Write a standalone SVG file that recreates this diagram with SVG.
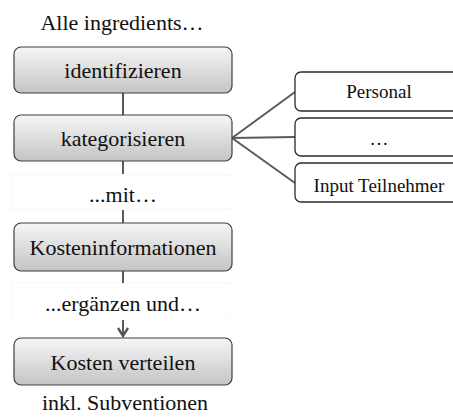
<svg xmlns="http://www.w3.org/2000/svg" width="453" height="419" viewBox="0 0 453 419">
  <style>
    .step { stroke: #3f3f3f; stroke-width: 1.2; fill: url(#stepFill); }
    .cat { stroke: #2b2b2b; stroke-width: 1.3; fill: #ffffff; }
    .lbl { fill: #ffffff; stroke: #f7f7f7; stroke-width: 1; }
    .t { font-family: "Liberation Serif", "Times New Roman", serif; fill: #111; text-anchor: middle; }
    .big { font-size: 22px; }
    .small { font-size: 19px; }
    .wire { stroke: #5a5a5a; stroke-width: 2; fill: none; }
  </style>
  <defs>
    <linearGradient id="stepFill" x1="0" y1="0" x2="0" y2="1">
      <stop offset="0" stop-color="#f6f6f6"/>
      <stop offset="1" stop-color="#c4c4c4"/>
    </linearGradient>
    <marker id="arrow" viewBox="0 0 12 12" refX="10" refY="6" markerWidth="12" markerHeight="12" markerUnits="userSpaceOnUse" orient="auto">
      <path d="M2,1 L10,6 L2,11" fill="none" stroke="#555555" stroke-width="2.4" stroke-linejoin="miter"/>
    </marker>
  </defs>

  <!-- text labels between steps -->
  <text class="t big" x="122" y="30">Alle ingredients…</text>
  <rect class="lbl" x="12" y="175" width="220" height="34"/>
  <text class="t big" x="123" y="202">...mit…</text>
  <rect class="lbl" x="12" y="283" width="220" height="37"/>
  <text class="t big" x="123" y="311">...ergänzen und…</text>
  <text class="t big" x="125" y="410">inkl. Subventionen</text>

  <!-- connectors -->
  <g id="connectors">
    <line class="wire" x1="123" y1="93" x2="123" y2="115"/>
    <line class="wire" x1="123" y1="161" x2="123" y2="174"/>
    <line class="wire" x1="123" y1="210" x2="123" y2="223"/>
    <line class="wire" x1="123" y1="271" x2="123" y2="283"/>
    <line class="wire" x1="123" y1="320" x2="123" y2="336" marker-end="url(#arrow)"/>
    <line class="wire" x1="232" y1="138" x2="295" y2="92"/>
    <line class="wire" x1="232" y1="138" x2="295" y2="137"/>
    <line class="wire" x1="232" y1="138" x2="295" y2="183"/>
  </g>

  <!-- process steps -->
  <g id="identifizieren">
    <rect class="step" x="14" y="47" width="218" height="46" rx="7"/>
    <text class="t big" x="123" y="78">identifizieren</text>
  </g>
  <g id="kategorisieren">
    <rect class="step" x="14" y="115" width="218" height="46" rx="7"/>
    <text class="t big" x="123" y="146">kategorisieren</text>
  </g>
  <g id="kosteninformationen">
    <rect class="step" x="14" y="223" width="218" height="48" rx="7"/>
    <text class="t big" x="123" y="255">Kosteninformationen</text>
  </g>
  <g id="kosten-verteilen">
    <rect class="step" x="14" y="338" width="218" height="47" rx="7"/>
    <text class="t big" x="123" y="370">Kosten verteilen</text>
  </g>

  <!-- categories -->
  <g id="personal">
    <rect class="cat" x="295" y="72" width="170" height="39" rx="6"/>
    <text class="t small" x="379" y="98">Personal</text>
  </g>
  <g id="weitere">
    <rect class="cat" x="295" y="118" width="170" height="38" rx="6"/>
    <text class="t small" x="379" y="145">…</text>
  </g>
  <g id="input-teilnehmer">
    <rect class="cat" x="295" y="163" width="170" height="39" rx="6"/>
    <text class="t small" x="379" y="192">Input Teilnehmer</text>
  </g>
</svg>
